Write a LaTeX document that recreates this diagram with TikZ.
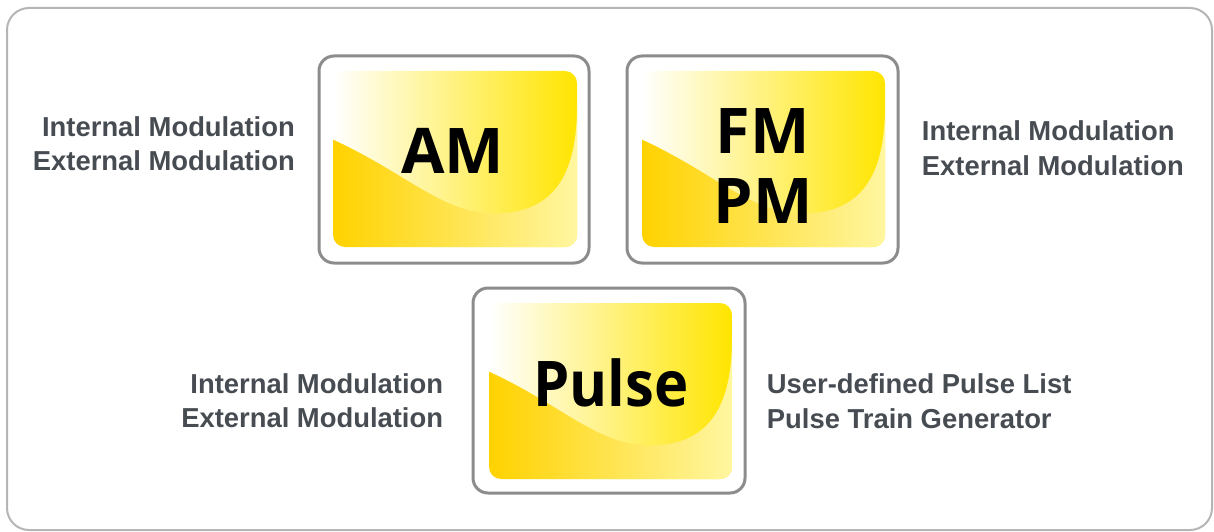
\documentclass[tikz,border=0pt]{standalone}
\usepackage{fontspec}
\setmainfont{Liberation Sans}
\newfontfamily\boxfont{Open Sans}
\definecolor{framegray}{HTML}{B5B5B5}
\definecolor{boxgray}{HTML}{8C8C8C}
\definecolor{txtgray}{HTML}{474C52}
\definecolor{ylA}{HTML}{FFE500}
\definecolor{ylB}{HTML}{FFD200}
\definecolor{ylC}{HTML}{FFF6A0}
\newcommand\yellowpad[4]{%
\begin{scope}[shift={(#1,#2)}, x=#3pt, y=-#4pt]
\begin{scope}
\clip[rounded corners=12pt] (0,0) rectangle (1,1);
\shade[left color=white, right color=ylA] (0,0) rectangle (1,1);
\shade[left color=ylB, right color=ylC] (0,0.39) .. controls (0.3,0.58) and (0.45,0.81) .. (0.66,0.81) .. controls (0.9,0.81) and (1,0.6) .. (1,0.2) -- (1,1) -- (0,1) -- cycle;
\end{scope}
\end{scope}}
\tikzset{
  boxframe/.style={draw=boxgray, line width=3pt, rounded corners=15pt, inner sep=0pt, outer sep=0pt},
  sidetext/.style={font=\fontsize{27.4}{32}\selectfont\bfseries, text=txtgray, inner sep=0pt},
  boxlabel/.style={font=\boxfont\bfseries\fontsize{63}{70}\selectfont, text=black, inner sep=0pt}
}
\begin{document}
\begin{tikzpicture}[x=1pt,y=-1pt]
\useasboundingbox (0,0) rectangle (1214,532);
\draw[framegray, line width=2pt, rounded corners=22pt] (7,8) rectangle (1212,530);
% yellow pads
\yellowpad{333}{71}{244}{176}
\yellowpad{642}{71}{243}{176}
\yellowpad{489}{303}{243}{176}
% frames
\node[boxframe, minimum width=270pt, minimum height=207pt] (am) at (454,159.5) {};
\node[boxframe, minimum width=271pt, minimum height=207pt] (fm) at (762.5,159.5) {};
\node[boxframe, minimum width=272pt, minimum height=205pt] (pulse) at (609,390.5) {};
% labels
\node[boxlabel, anchor=base] (amT) at (452.5,173.3) {AM};
\node[boxlabel, anchor=base] (fmT) at (762.5,153) {FM};
\node[boxlabel, anchor=base] (pmT) at (763,223) {PM};
\node[boxlabel, anchor=base, xscale=0.92] (pulseT) at (611,406.7) {Pulse};
% side texts
\node[sidetext, anchor=base east] (amL1) at (295,136.7) {Internal Modulation};
\node[sidetext, anchor=base east] (amL2) at (295,170.7) {External Modulation};
\node[sidetext, anchor=base west] (fmR1) at (921.7,140) {Internal Modulation};
\node[sidetext, anchor=base west] (fmR2) at (921.7,175) {External Modulation};
\node[sidetext, anchor=base east] (puL1) at (443.3,393.3) {Internal Modulation};
\node[sidetext, anchor=base east] (puL2) at (443.3,427.7) {External Modulation};
\node[sidetext, anchor=base west] (puR1) at (766.7,393.3) {User-defined Pulse List};
\node[sidetext, anchor=base west] (puR2) at (766.7,428) {Pulse Train Generator};
\end{tikzpicture}
\end{document}
